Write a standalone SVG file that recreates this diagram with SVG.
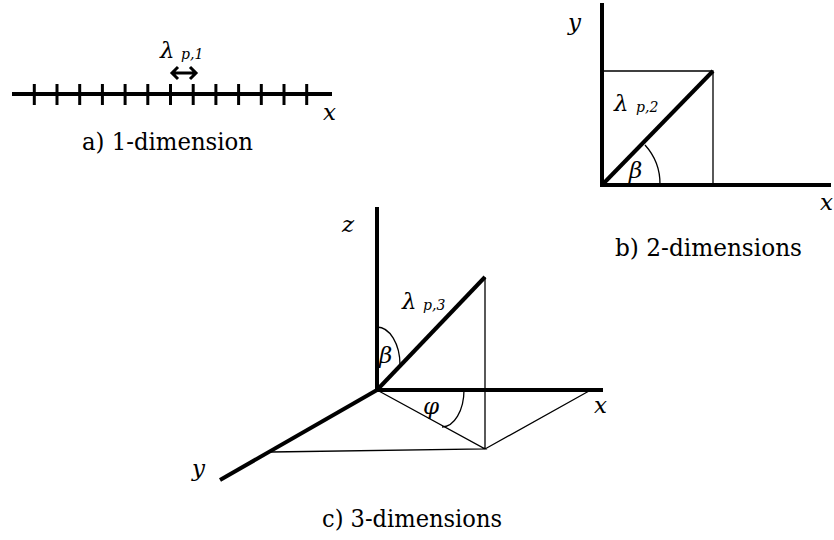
<svg xmlns="http://www.w3.org/2000/svg" width="834" height="540" viewBox="0 0 834 540">
<style>
.thick{stroke:#000;stroke-width:4;fill:none;stroke-linecap:butt}
.tick{stroke:#000;stroke-width:3;fill:none}
.thin{stroke:#000;stroke-width:1.3;fill:none}
text{font-family:"DejaVu Serif","Liberation Serif",serif;fill:#000}
.lab{font-style:italic;font-size:23px}
.gr{font-style:italic;font-size:23px}
.sub{font-style:italic;font-size:14px}
.cap{font-size:24px}
</style>
<rect width="834" height="540" fill="#fff"/>
<g id="fig-a">
  <line class="thick" x1="12" y1="94" x2="332" y2="94"/>
  <g class="tick">
    <line x1="34.3" y1="84" x2="34.3" y2="105"/>
    <line x1="57" y1="84" x2="57" y2="105"/>
    <line x1="79.7" y1="84" x2="79.7" y2="105"/>
    <line x1="102.4" y1="84" x2="102.4" y2="105"/>
    <line x1="125.1" y1="84" x2="125.1" y2="105"/>
    <line x1="147.8" y1="84" x2="147.8" y2="105"/>
    <line x1="170.5" y1="84" x2="170.5" y2="105"/>
    <line x1="193.2" y1="84" x2="193.2" y2="105"/>
    <line x1="215.9" y1="84" x2="215.9" y2="105"/>
    <line x1="238.6" y1="84" x2="238.6" y2="105"/>
    <line x1="261.3" y1="84" x2="261.3" y2="105"/>
    <line x1="284" y1="84" x2="284" y2="105"/>
    <line x1="306.7" y1="84" x2="306.7" y2="105"/>
  </g>
  <path class="tick" d="M172,73 H196 M178,67 L172,73 L178,79 M190,67 L196,73 L190,79"/>
  <text class="gr" x="160" y="58">λ</text>
  <text class="sub" x="181" y="59">p,1</text>
  <text class="lab" x="323" y="120">x</text>
  <text class="cap" x="82" y="150" textLength="171" lengthAdjust="spacingAndGlyphs">a) 1-dimension</text>
</g>
<g id="fig-b">
  <line class="thick" x1="602" y1="3" x2="602" y2="187"/>
  <line class="thick" x1="600" y1="185" x2="831" y2="185"/>
  <path class="thin" d="M602,71 H713 V185"/>
  <line class="thick" x1="602" y1="185" x2="713" y2="71"/>
  <path class="thin" d="M660,185 A58,58 0 0 0 645,145"/>
  <text class="lab" x="568" y="30">y</text>
  <text class="lab" x="820" y="210">x</text>
  <text class="gr" x="614" y="111">λ</text>
  <text class="sub" x="636" y="112">p,2</text>
  <text class="gr" x="629" y="178">β</text>
  <text class="cap" x="615" y="256" textLength="187" lengthAdjust="spacingAndGlyphs">b) 2-dimensions</text>
</g>
<g id="fig-c">
  <line class="thick" x1="377" y1="207" x2="377" y2="392"/>
  <line class="thick" x1="375" y1="390" x2="603" y2="390"/>
  <line class="thick" x1="377" y1="390" x2="220" y2="480"/>
  <line class="thick" x1="377" y1="390" x2="485" y2="277"/>
  <path class="thin" d="M485,277 V449 L589,391 M377,390 L485,449 L271,452"/>
  <path class="thin" d="M377,327 A23,38 0 0 1 400,365"/>
  <path class="thin" d="M464,390 A22,37 0 0 1 442,427"/>
  <text class="lab" x="342" y="232">z</text>
  <text class="lab" x="594" y="413">x</text>
  <text class="lab" x="192" y="476">y</text>
  <text class="gr" x="402" y="309">λ</text>
  <text class="sub" x="423" y="310">p,3</text>
  <text class="gr" x="379" y="363">β</text>
  <text class="gr" x="423" y="414">φ</text>
  <text class="cap" x="322" y="527" textLength="180" lengthAdjust="spacingAndGlyphs">c) 3-dimensions</text>
</g>
</svg>
